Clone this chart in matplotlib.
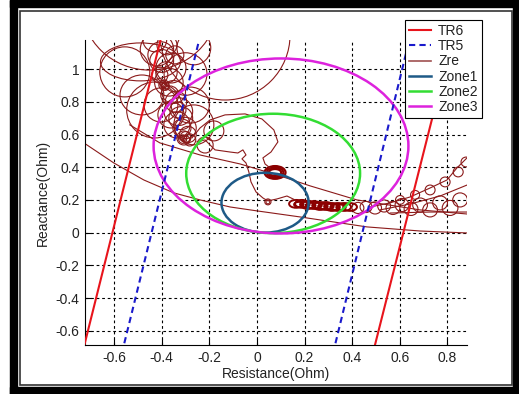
import matplotlib.pyplot as plt
from matplotlib.patches import Ellipse, Rectangle

plt.rcParams['font.family'] = ['Liberation Sans', 'DejaVu Sans']

# relay characteristic lines (R, X end points)
tr6_left_r = [-0.744, -0.384]
tr6_left_x = [-0.80, 1.30]
tr6_right_r = [0.476, 0.840]
tr6_right_x = [-0.80, 1.30]
tr5_left_r = [-0.578, -0.222]
tr5_left_x = [-0.80, 1.30]
tr5_right_r = [0.309, 0.660]
tr5_right_x = [-0.80, 1.30]

# mho zones: centre R, centre X, radius
zone_names = ['Zone1', 'Zone2', 'Zone3']
zone_r0 = [0.034, 0.068, 0.101]
zone_x0 = [0.183, 0.362, 0.530]
zone_rad = [0.183, 0.365, 0.535]

# apparent impedance trajectory (Zre) - smooth parts
c1_r = [-0.727, -0.601, -0.475, -0.349, -0.239, -0.113, 0.0, 0.181, 0.462, 0.685, 0.882]
c1_x = [0.549, 0.426, 0.322, 0.243, 0.200, 0.157, 0.133, 0.096, 0.035, 0.010, -0.002]
c2_r = [-0.534, -0.408, -0.239, -0.071, 0.097, 0.223, 0.420, 0.685, 0.882]
c2_x = [0.659, 0.549, 0.475, 0.420, 0.347, 0.286, 0.200, 0.139, 0.114]
p1_r = [-0.273, -0.239, -0.197, -0.134, -0.050, 0.021, 0.071, 0.088, 0.059, 0.025, 0.034, 0.055]
p1_x = [0.579, 0.640, 0.689, 0.720, 0.726, 0.695, 0.628, 0.555, 0.493, 0.457, 0.420, 0.396]
p2_r = [-0.252, -0.218, -0.176, -0.113, -0.080, -0.059, -0.046, -0.063, -0.046, -0.034,
        -0.025, -0.004, 0.025, 0.046, 0.084, 0.126, 0.160]
p2_x = [0.555, 0.567, 0.506, 0.493, 0.487, 0.506, 0.475, 0.451, 0.426, 0.371,
        0.310, 0.249, 0.212, 0.194, 0.206, 0.224, 0.200]
s1_r = [0.475, 0.559, 0.643, 0.727, 0.798, 0.840, 0.882]
s1_x = [0.157, 0.182, 0.218, 0.273, 0.322, 0.396, 0.457]
s2_r = [0.517, 0.643, 0.769, 0.882]
s2_x = [0.139, 0.175, 0.224, 0.291]
s3_r = [0.559, 0.727, 0.882]
s3_x = [0.120, 0.126, 0.126]

# Zre loops in the upper-left cluster: centre R, centre X, half width, half height
clu_r = [-0.450, -0.489, -0.483, -0.361, -0.265, -0.403, -0.361, -0.403, -0.336, -0.265,
         -0.181, -0.378, -0.134, -0.555, -0.429, -0.408, -0.366, -0.332, -0.315, -0.282,
         -0.345, -0.429, -0.218,
         -0.400, -0.380, -0.370, -0.350, -0.340, -0.330, -0.320, -0.300, -0.290, -0.420,
         -0.300, -0.280,
         -0.391, -0.385, -0.395, -0.389, -0.307, -0.300, -0.312, -0.296, -0.305]
clu_x = [1.392, 1.044, 0.842, 0.720, 1.130, 1.087, 1.007, 0.781, 0.659, 0.659,
         0.622, 1.148, 1.209, 0.983, 0.750, 0.964, 0.842, 0.750, 0.640, 0.567,
         1.087, 1.179, 0.536,
         1.050, 0.980, 0.920, 0.860, 0.800, 0.740, 0.700, 0.640, 0.600, 1.120,
         0.970, 0.780,
         0.903, 0.895, 0.910, 0.900, 0.579, 0.585, 0.572, 0.570, 0.580]
clu_a = [0.286, 0.168, 0.092, 0.055, 0.071, 0.055, 0.063, 0.071, 0.055, 0.084,
         0.042, 0.042, 0.273, 0.105, 0.118, 0.034, 0.038, 0.034, 0.038, 0.025,
         0.038, 0.050, 0.034,
         0.050, 0.045, 0.060, 0.050, 0.045, 0.060, 0.050, 0.045, 0.035, 0.070,
         0.090, 0.080,
         0.021, 0.017, 0.013, 0.009, 0.029, 0.022, 0.017, 0.013, 0.010]
clu_b = [0.398, 0.116, 0.122, 0.080, 0.104, 0.080, 0.092, 0.104, 0.080, 0.122,
         0.061, 0.061, 0.398, 0.153, 0.171, 0.049, 0.055, 0.049, 0.055, 0.037,
         0.055, 0.073, 0.049,
         0.070, 0.065, 0.085, 0.070, 0.065, 0.085, 0.070, 0.065, 0.050, 0.100,
         0.130, 0.110,
         0.031, 0.025, 0.020, 0.014, 0.043, 0.033, 0.026, 0.020, 0.015]

# tight loops at the start of the low band
band_r = [0.164, 0.189, 0.214, 0.239, 0.265, 0.290, 0.315, 0.340, 0.366, 0.391,
          0.176, 0.201, 0.226, 0.252, 0.277, 0.302, 0.328, 0.353]
band_x = [0.176, 0.176, 0.169, 0.169, 0.163, 0.163, 0.157, 0.157, 0.157, 0.157,
          0.172, 0.172, 0.166, 0.166, 0.160, 0.160, 0.155, 0.155]
band_a = [0.029, 0.029, 0.029, 0.029, 0.029, 0.029, 0.029, 0.029, 0.029, 0.029,
          0.020, 0.020, 0.020, 0.020, 0.020, 0.020, 0.020, 0.020]
band_b = [0.024, 0.024, 0.024, 0.024, 0.024, 0.024, 0.024, 0.024, 0.024, 0.024,
          0.016, 0.016, 0.016, 0.016, 0.016, 0.016, 0.016, 0.016]

# wider loops further right
open_r = [0.424, 0.458, 0.496, 0.534, 0.571, 0.609, 0.647, 0.685, 0.727, 0.769, 0.811, 0.853,
          0.601, 0.664, 0.727, 0.790, 0.845, 0.878, 0.046, 0.046]
open_x = [0.151, 0.157, 0.151, 0.163, 0.151, 0.169, 0.145, 0.169, 0.139, 0.182, 0.151, 0.200,
          0.200, 0.231, 0.261, 0.310, 0.371, 0.432, 0.188, 0.188]
open_a = [0.025, 0.025, 0.027, 0.027, 0.029, 0.029, 0.029, 0.031, 0.031, 0.031, 0.033, 0.031,
          0.019, 0.019, 0.021, 0.021, 0.021, 0.021, 0.013, 0.008]
open_b = [0.034, 0.034, 0.037, 0.037, 0.040, 0.040, 0.040, 0.043, 0.043, 0.043, 0.046, 0.043,
          0.027, 0.027, 0.030, 0.030, 0.030, 0.030, 0.018, 0.012]

# tight ring of the trajectory
ring_r0 = 0.076
ring_x0 = 0.368
ring_a = [0.026, 0.035, 0.044]
ring_b = [0.021, 0.030, 0.039]

x_ticks = [-0.6, -0.4, -0.2, 0, 0.2, 0.4, 0.6, 0.8]
x_labels = ['-0.6', '-0.4', '-0.2', '0', '0.2', '0.4', '0.6', '0.8']
y_ticks = [-0.6, -0.4, -0.2, 0, 0.2, 0.4, 0.6, 0.8, 1.0]
y_labels = ['-0.6', '-0.4', '-0.2', '0', '0.2', '0.4', '0.6', '0.8', '1']

red = '#e8141c'
blue = '#1a1acc'
zre_c = '#8b1a1a'
zone_cols = ['#1e5a87', '#33dd33', '#dd22dd']

fig = plt.figure(figsize=(5.19, 3.94), dpi=100)
ax = fig.add_axes([0.1638, 0.1244, 0.736, 0.7741])

# Zre
ax.plot(c1_r, c1_x, color=zre_c, lw=0.8)
for r, x in [(c2_r, c2_x), (p1_r, p1_x), (p2_r, p2_x), (s1_r, s1_x), (s2_r, s2_x), (s3_r, s3_x)]:
    ax.plot(r, x, color=zre_c, lw=0.8)
for r, x, a, b in zip(clu_r, clu_x, clu_a, clu_b):
    ax.add_patch(Ellipse((r, x), 2 * a, 2 * b, fill=False, ec=zre_c, lw=0.8))
for r, x, a, b in zip(open_r, open_x, open_a, open_b):
    ax.add_patch(Ellipse((r, x), 2 * a, 2 * b, fill=False, ec=zre_c, lw=0.8))
for r, x, a, b in zip(band_r, band_x, band_a, band_b):
    ax.add_patch(Ellipse((r, x), 2 * a, 2 * b, fill=False, ec='#8b0000', lw=1.4))
for a, b in zip(ring_a, ring_b):
    ax.add_patch(Ellipse((ring_r0, ring_x0), 2 * a, 2 * b, fill=False, ec='#8b0000', lw=1.6))

# zones
for i in range(3):
    ax.add_patch(Ellipse((zone_r0[i], zone_x0[i]), 2 * zone_rad[i], 2 * zone_rad[i],
                         fill=False, ec=zone_cols[i], lw=1.8, zorder=3))

# characteristic lines
l6, = ax.plot(tr6_left_r, tr6_left_x, color=red, lw=1.5, zorder=4)
ax.plot(tr6_right_r, tr6_right_x, color=red, lw=1.5, zorder=4)
l5, = ax.plot(tr5_left_r, tr5_left_x, color=blue, lw=1.5, ls=(0, (3, 2)), zorder=4)
ax.plot(tr5_right_r, tr5_right_x, color=blue, lw=1.5, ls=(0, (3, 2)), zorder=4)

zre_h = plt.Line2D([], [], color='#a05050', lw=1.2)
zone_h = [plt.Line2D([], [], color=c, lw=1.8) for c in zone_cols]

ax.set_xlim(-0.722, 0.882)
ax.set_ylim(-0.687, 1.178)
ax.set_xticks(x_ticks)
ax.set_xticklabels(x_labels)
ax.set_yticks(y_ticks)
ax.set_yticklabels(y_labels)
ax.tick_params(direction='in', length=4, labelsize=10, labelcolor='#222222', pad=4)
ax.grid(True, color='k', ls=(0, (2.5, 2.5)), lw=0.8)
ax.set_axisbelow(True)
for s in ['top', 'right']:
    ax.spines[s].set_visible(False)
ax.set_xlabel('Resistance(Ohm)', fontsize=10, color='#222222', labelpad=2)
ax.set_ylabel('Reactance(Ohm)', fontsize=10, color='#222222', labelpad=4)

leg = ax.legend([l6, l5, zre_h] + zone_h, ['TR6', 'TR5', 'Zre'] + zone_names,
                loc='upper right', bbox_to_anchor=(0.9287, 0.9492), bbox_transform=fig.transFigure,
                fontsize=10, frameon=True, fancybox=False, framealpha=1, edgecolor='k',
                handlelength=1.6, labelspacing=0.08, borderpad=0.3, handletextpad=0.5,
                borderaxespad=0)
leg.get_frame().set_linewidth(0.8)
for t in leg.get_texts():
    t.set_color('#222222')

# picture frame
W, H = 519.0, 394.0
fig.patches.append(Rectangle((10 / W, 0), 7 / W, 1, transform=fig.transFigure, color='k'))
fig.patches.append(Rectangle((513 / W, 0), 6 / W, 1, transform=fig.transFigure, color='k'))
fig.patches.append(Rectangle((10 / W, 1 - 7 / H), 509 / W, 7 / H, transform=fig.transFigure, color='k'))
fig.patches.append(Rectangle((10 / W, 0), 509 / W, 7 / H, transform=fig.transFigure, color='k'))
fig.patches.append(Rectangle((19.5 / W, 1 - 385 / H), 492 / W, 374 / H, transform=fig.transFigure,
                             fill=False, ec='#333333', lw=1.2))

fig.savefig('out.png', dpi=100)
